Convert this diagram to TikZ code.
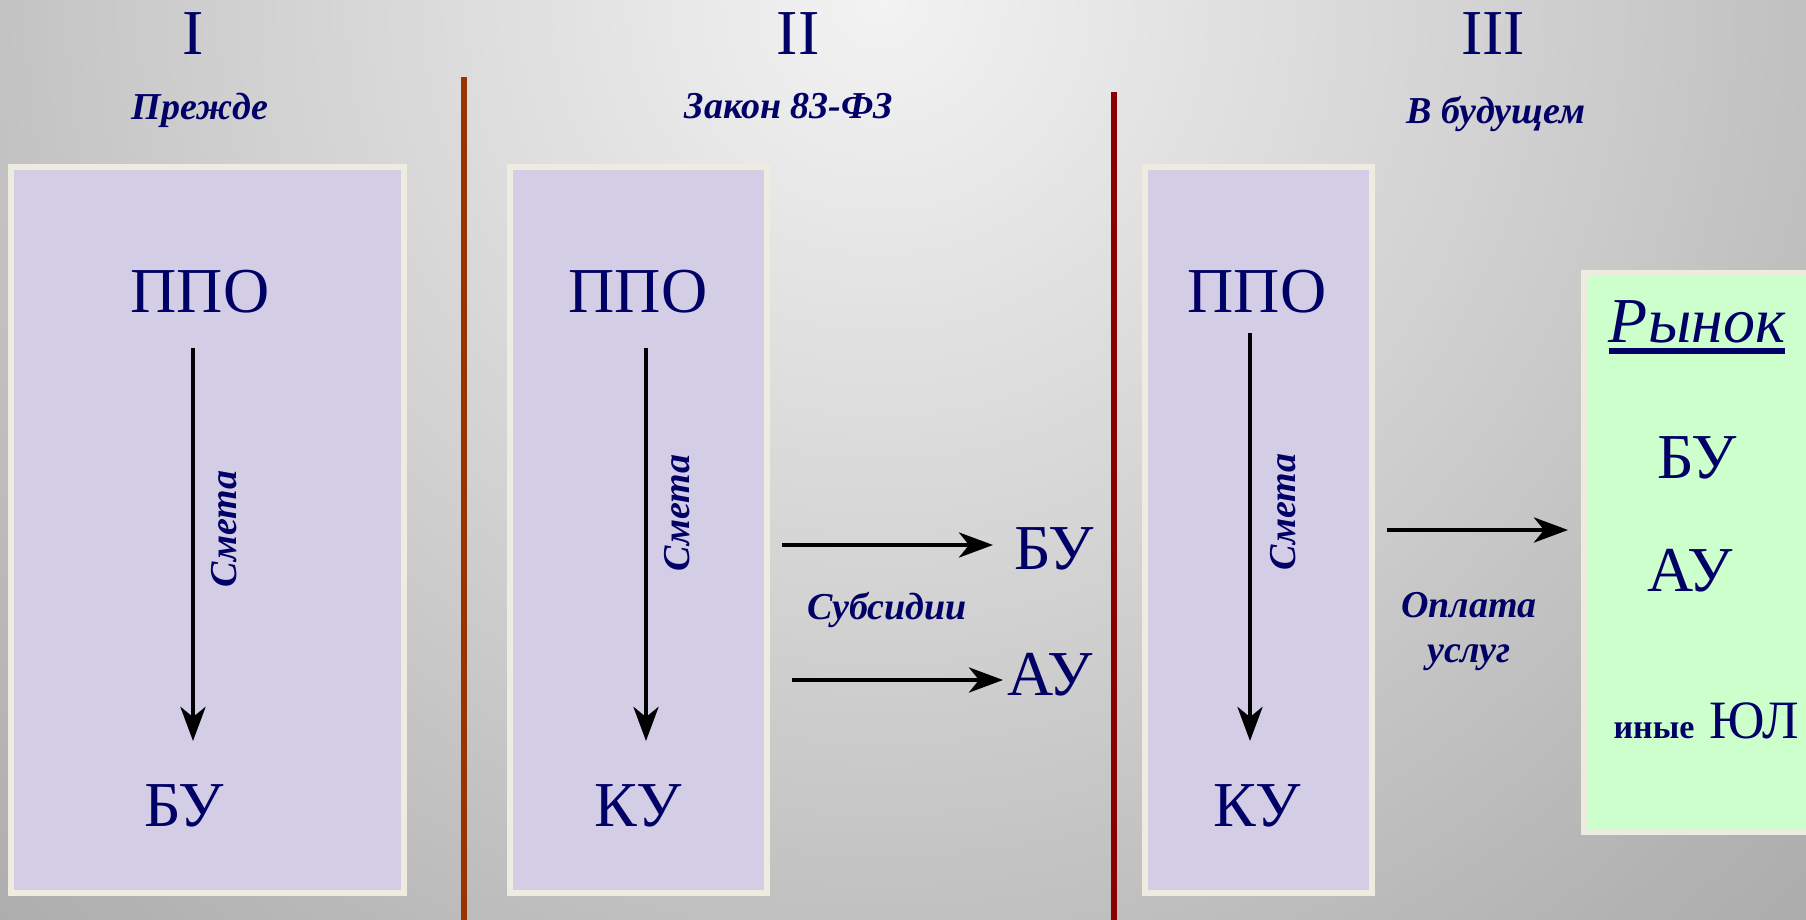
\documentclass[tikz,border=0pt]{standalone}
\usepackage{fontspec}
\setmainfont{Liberation Serif}
\usetikzlibrary{arrows.meta,fit}
\definecolor{navy}{RGB}{0,0,102}
\definecolor{lav}{RGB}{211,205,230}
\definecolor{cream}{RGB}{238,236,225}
\definecolor{mint}{RGB}{204,255,204}
\definecolor{divA}{RGB}{153,51,0}
\definecolor{divB}{RGB}{139,0,0}
\definecolor{bgA}{RGB}{243,243,243}
\definecolor{bgB}{RGB}{208,208,208}
\definecolor{bgC}{RGB}{178,178,178}
\definecolor{bgD}{RGB}{155,155,155}
\definecolor{bgG}{RGB}{142,142,142}
\pgfdeclareradialshading{bgshade}{\pgfpoint{0bp}{0bp}}{color(0bp)=(bgA); color(14.8bp)=(bgB); color(26.7bp)=(bgC); color(40bp)=(bgD); color(50bp)=(bgG)}
\begin{document}
\begin{tikzpicture}[x=0.5pt,y=-0.5pt,
  big/.style={font=\fontsize{32}{38}\selectfont, text=navy, inner sep=0pt, anchor=base},
  lbl/.style={font=\fontsize{19}{22.5}\selectfont\bfseries\itshape, text=navy, inner sep=0pt},
  box/.style={draw=cream, line width=3pt, fill=lav, inner sep=0pt},
  arr/.style={line width=2.3pt, -{Stealth[length=17pt,width=12.5pt,inset=5pt]}},
  divider/.style={line width=3pt}]
\path[use as bounding box] (0,0) rectangle (1806,920);
\begin{scope}
\clip (0,0) rectangle (1806,920);
\fill[bgD] (0,0) rectangle (1806,920);
\shade[shading=bgshade] (-220,-1100) rectangle (1980,1100);

% dividers
\coordinate (d1t) at (464,77);
\coordinate (d1b) at (464,920);
\coordinate (d2t) at (1114,92);
\coordinate (d2b) at (1114,920);
\draw[divider, divA] (d1t) -- (d1b);
\draw[divider, divB] (d2t) -- (d2b);

% headings
\node[big] (r1) at (193,55) {I};
\node[big] (r2) at (798,55) {II};
\node[big] (r3) at (1493,55) {III};
\node[lbl, anchor=base] (h1) at (200,120) {Прежде};
\node[lbl, anchor=base] (h2) at (789,119) {Закон 83-ФЗ};
\node[lbl, anchor=base] (h3) at (1496,124) {В будущем};

% boxes
\node[box, fit={(11,167) (404,893)}] (box1) {};
\node[box, fit={(510,167) (767,893)}] (box2) {};
\node[box, fit={(1145,167) (1372,893)}] (box3) {};
\node[box, fill=mint, fit={(1584,273) (1850,832)}] (market) {};

% box 1
\node[big] (ppo1) at (200,312) {ППО};
\node[big] (bu1) at (184,826) {БУ};
\coordinate (a1s) at (193,348);
\coordinate (a1e) at (193,741);
\draw[arr] (a1s) -- (a1e);
\node[lbl, rotate=90] (sm1) at (224,529) {Смета};

% box 2
\node[big] (ppo2) at (638,312) {ППО};
\node[big] (ku2) at (638,826) {КУ};
\coordinate (a2s) at (646,348);
\coordinate (a2e) at (646,741);
\draw[arr] (a2s) -- (a2e);
\node[lbl, rotate=90] (sm2) at (677,513) {Смета};

% subsidies
\node[big] (bu2) at (1054,569) {БУ};
\node[big] (au2) at (1050,695) {АУ};
\coordinate (s1s) at (782,545);
\coordinate (s1e) at (993,545);
\coordinate (s2s) at (792,680);
\coordinate (s2e) at (1003,680);
\draw[arr] (s1s) -- (s1e);
\draw[arr] (s2s) -- (s2e);
\node[lbl, anchor=base] (sub) at (887,619) {Субсидии};

% box 3
\node[big] (ppo3) at (1257,312) {ППО};
\node[big] (ku3) at (1257,826) {КУ};
\coordinate (a3s) at (1250,333);
\coordinate (a3e) at (1250,741);
\draw[arr] (a3s) -- (a3e);
\node[lbl, rotate=90] (sm3) at (1283,512) {Смета};

% payment
\coordinate (ps) at (1387,530);
\coordinate (pe) at (1568,530);
\draw[arr] (ps) -- (pe);
\node[lbl, align=center] (pay) at (1469,632) {Оплата\\услуг};

% market
\node[big, font=\fontsize{32}{38}\selectfont\itshape] (ry) at (1697,342) {Рынок};
\draw[navy, line width=3pt] ([yshift=-4.5pt]ry.base west) -- ([yshift=-4.5pt]ry.base east);
\node[big] (bu3) at (1697,478) {БУ};
\node[big] (au3) at (1690,591) {АУ};
\node[big, font=\fontsize{27}{32}\selectfont] (yul) at (1754,738) {ЮЛ};
\node[big, font=\fontsize{17}{21}\selectfont\bfseries] (other) at (1654,738) {иные};
\end{scope}
\end{tikzpicture}
\end{document}
